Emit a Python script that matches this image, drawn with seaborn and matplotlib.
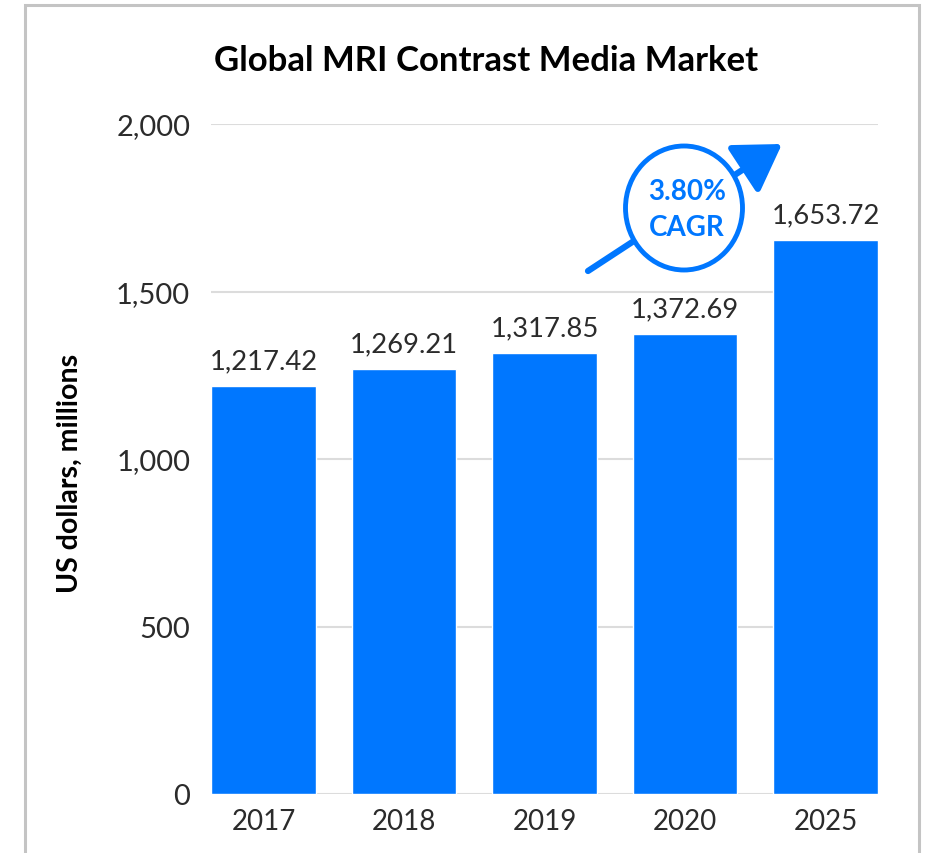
import matplotlib
matplotlib.use("Agg")
import matplotlib.pyplot as plt
import seaborn as sns
import pandas as pd
from matplotlib.patches import Ellipse, Rectangle, FancyArrowPatch

years = ["2017", "2018", "2019", "2020", "2025"]
values = [1217.42, 1269.21, 1317.85, 1372.69, 1653.72]
value_labels = ["1,217.42", "1,269.21", "1,317.85", "1,372.69", "1,653.72"]
y_ticks = [0, 500, 1000, 1500, 2000]
y_tick_labels = ["0", "500", "1,000", "1,500", "2,000"]
title = "Global MRI Contrast Media Market"
y_title = "US dollars, millions"
cagr_lines = ["3.80%", "CAGR"]

sns.set_theme(style="white")
plt.rcParams["font.family"] = ["Lato", "DejaVu Sans"]

BLUE = "#0077FF"
TXT = "#2b2b2b"
W, H = 925, 854
fig = plt.figure(figsize=(W / 100, H / 100), dpi=100)
fig.patch.set_facecolor("white")

ax = fig.add_axes([211 / W, (H - 795) / H, 667 / W, 670 / H])
df = pd.DataFrame({"year": years, "value": values})
bw = 0.747
sns.barplot(data=df, x="year", y="value", color=BLUE, saturation=1, width=bw, ax=ax, zorder=3)
ax.set_xlim(-bw / 2, len(years) - 1 + bw / 2)
ax.set_ylim(0, 2000)
ax.set_yticks(y_ticks)
ax.set_yticklabels(y_tick_labels)
ax.set_xlabel("")
ax.set_ylabel("")
ax.yaxis.grid(True, color="#dcdcdc", linewidth=1.5, zorder=0)
ax.set_axisbelow(True)
for s in ax.spines.values():
    s.set_visible(False)
ax.tick_params(axis="y", length=0, pad=15, labelsize=21, labelcolor=TXT)
ax.tick_params(axis="x", length=0, pad=10, labelsize=20, labelcolor=TXT)

for i, (v, lab) in enumerate(zip(values, value_labels)):
    ax.annotate(lab, (i, v), xytext=(0, 9), textcoords="offset points",
                ha="center", va="bottom", fontsize=19.7, color=TXT)

fig.text(486 / W, 1 - 61 / H, title, ha="center", va="center",
         fontsize=25, fontweight="bold", color="black")
fig.text(70 / W, 1 - 473 / H, y_title, ha="center", va="center", rotation=90,
         fontsize=20.5, fontweight="bold", color="black")

def fx(px):
    return px / W

def fy(py):
    return 1 - py / H

arrow = FancyArrowPatch((fx(588), fy(272)), (fx(782), fy(145)), transform=fig.transFigure,
                        arrowstyle="-|>,head_length=2.0,head_width=1.25", mutation_scale=14,
                        color=BLUE, linewidth=4.5, shrinkA=0, shrinkB=0, zorder=5)
fig.add_artist(arrow)
circ = Ellipse((fx(684), fy(209)), 117 / W, 124 / H, transform=fig.transFigure,
               facecolor="white", edgecolor=BLUE, linewidth=3.5, zorder=6)
fig.add_artist(circ)
fig.text(fx(687), fy(192), cagr_lines[0], ha="center", va="center", fontsize=20,
         fontweight="bold", color=BLUE, zorder=7)
fig.text(fx(687), fy(228), cagr_lines[1], ha="center", va="center", fontsize=20,
         fontweight="bold", color=BLUE, zorder=7)

frame = Rectangle((fx(25), fy(860)), (919 - 25) / W, (860 - 6) / H, transform=fig.transFigure,
                  facecolor="none", edgecolor="#c4c4c4", linewidth=2.2, zorder=10)
fig.add_artist(frame)

fig.savefig("out.png", dpi=100, facecolor="white")
